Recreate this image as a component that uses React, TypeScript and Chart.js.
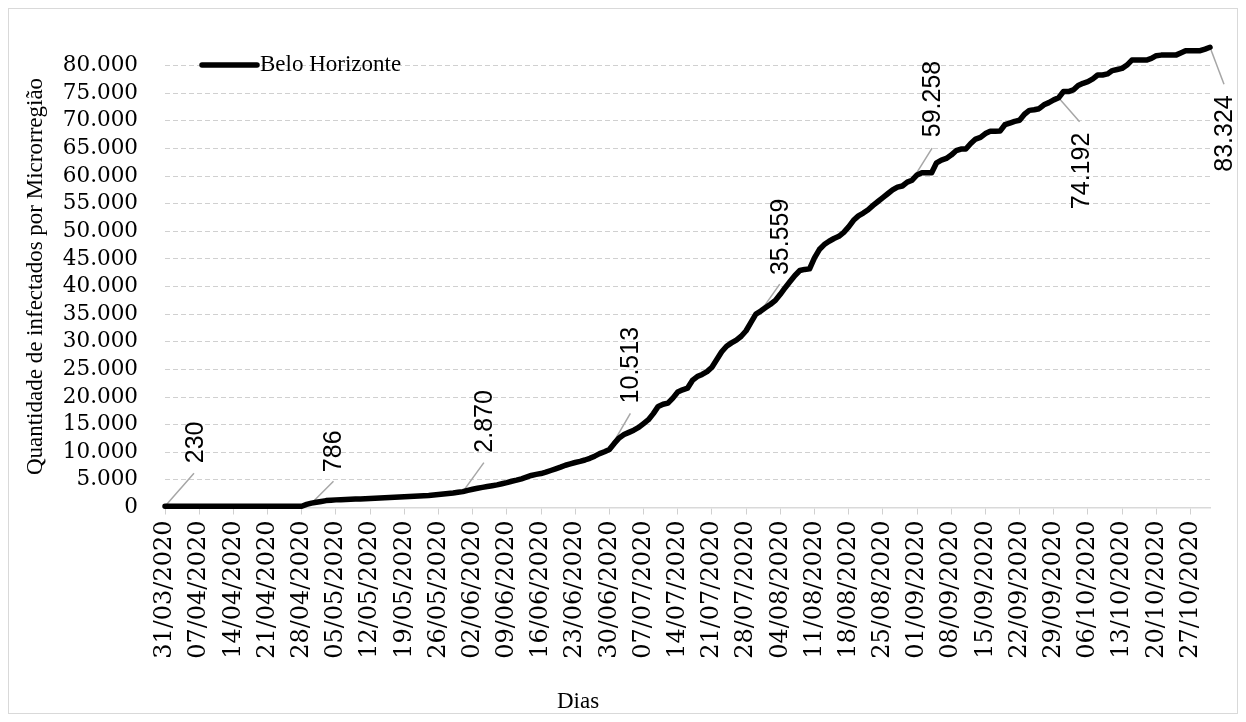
import React, { useEffect, useRef } from 'react';
import { Chart, registerables } from 'chart.js';

Chart.register(...registerables);

// ---- Data ----
const serieNome = 'Belo Horizonte';
const tituloY = 'Quantidade de infectados por Microrregião';
const tituloX = 'Dias';

// daily categories from 31/03/2020 to 31/10/2020
const dias: string[] = Array.from({ length: 215 }, (_, i) => {
  const d = new Date(2020, 2, 31 + i);
  const dd = String(d.getDate()).padStart(2, '0');
  const mm = String(d.getMonth() + 1).padStart(2, '0');
  return `${dd}/${mm}/${d.getFullYear()}`;
});

// cumulative infected, one value per day
const casos: number[] = [
  230, 230, 230, 230, 230, 230, 230, 230, 230, 230,
  230, 230, 230, 230, 230, 230, 230, 230, 230, 230,
  230, 230, 230, 230, 230, 230, 230, 230, 230,
  560, 786, 950, 1100, 1250, 1330, 1380, 1420, 1460, 1500, 1530, 1560,
  1590, 1630, 1670, 1720, 1760, 1800, 1850, 1900, 1950, 2000,
  2040, 2080, 2130, 2180, 2260, 2340, 2430, 2530, 2630, 2750,
  2870, 3100, 3300, 3480, 3650, 3800, 3950, 4100, 4300, 4500,
  4750, 4950, 5200, 5500, 5800, 6000, 6150, 6400, 6700, 7000,
  7300, 7650, 7900, 8150, 8350, 8600, 8900, 9300, 9750, 10100,
  10513, 11600, 12600, 13200, 13600, 14000, 14500, 15200, 15900, 17000,
  18300, 18700, 18900, 19800, 20900, 21300, 21600, 23000, 23700, 24100,
  24600, 25400, 26800, 28200, 29200, 29800, 30300, 31000, 32000, 33500,
  35000, 35559, 36200, 36800, 37500, 38600, 39800, 40900, 42000, 42900,
  43100, 43200, 45200, 46700, 47600, 48200, 48700, 49100, 49800, 50800,
  52000, 52800, 53300, 53900, 54700, 55400, 56100, 56800, 57500, 58000,
  58200, 58900, 59258, 60200, 60600, 60600, 60600, 62400, 62900, 63200,
  63800, 64600, 64900, 64900, 65900, 66700, 67000, 67700, 68100, 68100,
  68150, 69300, 69600, 69900, 70100, 71200, 71900, 72000, 72200, 72900,
  73300, 73800, 74192, 75300, 75300, 75600, 76400, 76800, 77100, 77600,
  78300, 78300, 78500, 79100, 79300, 79500, 80100, 81000, 81000, 81000,
  81000, 81300, 81800, 81900, 81900, 81900, 81900, 82300, 82700, 82700,
  82700, 82700, 83000, 83324,
];

// days that carry a data label
const diasRotulados: number[] = [0, 30, 61, 91, 122, 153, 183, 214];

// y axis
const yMax = 85000;
const yPasso = 5000;

// ---- Styles ----
const rotuloOffsets = [
  { lx: 29, ly: -33, tx: 31, ty: -43 },
  { lx: 22, ly: -22, tx: 23, ty: -31 },
  { lx: 21, ly: -29, tx: 22, ty: -39 },
  { lx: 21, ly: -36, tx: 22, ty: -46 },
  { lx: 19, ly: -27, tx: 20, ty: -36 },
  { lx: 20, ly: -32, tx: 21, ty: -43 },
  { lx: 21, ly: 24, tx: 23, ty: 35 },
  { lx: 14, ly: 37, tx: 15, ty: 48 },
];

const W = 1228;
const H = 704;
const serifText = '"Liberation Serif", serif';
const serifNum = '"DejaVu Serif", serif';

const fmt = (v: number) => String(Math.round(v)).replace(/\B(?=(\d{3})+(?!\d))/g, '.');

const overlayPlugin = {
  id: 'overlay',
  beforeDatasetsDraw(chart: any) {
    const { ctx } = chart;
    const xs = chart.scales.x;
    const ys = chart.scales.y;
    ctx.save();
    ctx.strokeStyle = '#a6a6a6';
    ctx.lineWidth = 1.5;
    diasRotulados.forEach((d, k) => {
      const px = xs.getPixelForValue(d);
      const py = ys.getPixelForValue(casos[d]);
      const o = rotuloOffsets[k];
      ctx.beginPath();
      ctx.moveTo(px, py);
      ctx.lineTo(px + o.lx, py + o.ly);
      ctx.stroke();
    });
    ctx.restore();
  },
  afterDatasetsDraw(chart: any) {
    const { ctx } = chart;
    const xs = chart.scales.x;
    const ys = chart.scales.y;
    ctx.save();
    ctx.fillStyle = '#000';
    ctx.font = '25px "Liberation Sans", sans-serif';
    ctx.textBaseline = 'middle';
    diasRotulados.forEach((d, k) => {
      const px = xs.getPixelForValue(d);
      const py = ys.getPixelForValue(casos[d]);
      const o = rotuloOffsets[k];
      ctx.save();
      ctx.translate(px + o.tx, py + o.ty);
      ctx.rotate(-Math.PI / 2);
      ctx.textAlign = o.ty < 0 ? 'left' : 'right';
      ctx.fillText(fmt(casos[d]), 0, 0);
      ctx.restore();
    });

    // legend
    ctx.strokeStyle = '#000';
    ctx.lineWidth = 5.5;
    ctx.lineCap = 'round';
    ctx.beginPath();
    ctx.moveTo(193, 56);
    ctx.lineTo(248, 56);
    ctx.stroke();
    ctx.font = `23px ${serifText}`;
    ctx.textAlign = 'left';
    ctx.textBaseline = 'middle';
    ctx.fillText(serieNome, 251, 56);

    // axis titles
    ctx.save();
    ctx.translate(27, 267.5);
    ctx.rotate(-Math.PI / 2);
    ctx.textAlign = 'center';
    ctx.fillText(tituloY, 0, 0);
    ctx.restore();
    ctx.textAlign = 'center';
    ctx.fillText(tituloX, 569, 693);
    ctx.restore();
  },
};

export default function App() {
  const ref = useRef<HTMLCanvasElement | null>(null);

  useEffect(() => {
    if (!ref.current) return;
    const chart = new Chart(ref.current, {
      type: 'line',
      data: {
        labels: dias,
        datasets: [
          {
            label: serieNome,
            data: casos,
            borderColor: '#000',
            backgroundColor: '#000',
            borderWidth: 5.5,
            pointRadius: 0,
            pointHoverRadius: 0,
            tension: 0,
            borderJoinStyle: 'round',
            borderCapStyle: 'round',
            clip: false as any,
          },
        ],
      },
      options: {
        animation: false,
        responsive: false,
        devicePixelRatio: 1,
        layout: { padding: { top: 29, right: 27, left: 0, bottom: 0 } },
        plugins: {
          legend: { display: false },
          tooltip: { enabled: false },
          title: { display: false },
        },
        scales: {
          x: {
            type: 'category',
            offset: false,
            grid: {
              display: true,
              drawOnChartArea: false,
              drawTicks: true,
              tickLength: 7,
              lineWidth: 1,
              color: (c: any) => (c.index % 7 === 0 ? '#d0d0d0' : 'rgba(0,0,0,0)'),
            },
            border: { display: true, color: '#d9d9d9', width: 1.5 },
            ticks: {
              autoSkip: false,
              maxRotation: 90,
              minRotation: 90,
              padding: 6,
              color: '#000',
              font: { family: serifNum, size: 24 },
              callback: (_v: any, i: number) => (i % 7 === 0 ? dias[i] : ''),
            },
            afterFit: (s: any) => {
              s.height = 205.5;
              s.paddingLeft = 0;
              s.paddingRight = 0;
            },
          },
          y: {
            min: 0,
            max: yMax,
            grid: {
              drawTicks: false,
              lineWidth: 1,
              color: (c: any) => (c.tick && c.tick.value === yMax ? 'rgba(0,0,0,0)' : '#d0d0d0'),
            },
            border: { display: false, dash: [5, 3] },
            ticks: {
              stepSize: yPasso,
              autoSkip: false,
              padding: 27,
              color: '#000',
              font: { family: serifNum, size: 21.5, lineHeight: 1 },
              callback: (v: any) => (v === yMax ? '' : fmt(Number(v))),
            },
            afterFit: (s: any) => {
              s.width = 156;
              s.paddingTop = 0;
              s.paddingBottom = 0;
            },
          },
        },
      },
      plugins: [overlayPlugin],
    } as any);
    return () => chart.destroy();
  }, []);

  return (
    <div
      style={{
        width: W,
        height: H,
        border: '1px solid #d9d9d9',
        background: '#fff',
      }}
    >
      <canvas ref={ref} width={W} height={H} style={{ display: 'block' }} />
    </div>
  );
}
